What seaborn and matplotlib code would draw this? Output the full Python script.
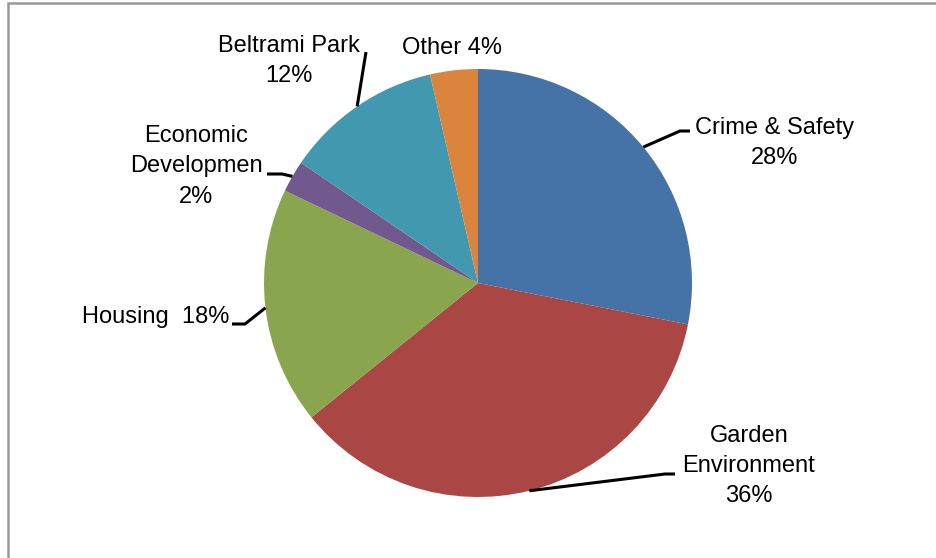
import numpy as np
import matplotlib
matplotlib.use("Agg")
import matplotlib.pyplot as plt
import seaborn as sns
from matplotlib.patches import Rectangle

# ---- data ----
categories = ["Crime & Safety", "Garden\nEnvironment", "Housing ", "Economic\nDevelopmen",
              "Beltrami Park", "Other"]
values = [28.1, 36.1, 17.9, 2.4, 11.9, 3.6]
colors = ["#4572A7", "#AA4643", "#89A54E", "#71588F", "#4198AF", "#DB843D"]

sns.set_theme(style="white")
plt.rcParams['font.family'] = ['Liberation Sans', 'DejaVu Sans']

W, H = 937, 558
fig = plt.figure(figsize=(W / 100, H / 100), dpi=100)
ax = fig.add_axes([0, 0, 1, 1])

def py(y):
    return H - y

cx, cy, r = 478, py(283), 214
wedges, _ = ax.pie(values, colors=colors, startangle=90, counterclock=False,
                   center=(cx, cy), radius=r, frame=True,
                   wedgeprops=dict(linewidth=0))
ax.set_xlim(0, W)
ax.set_ylim(0, H)
ax.set_aspect('equal')
ax.axis('off')

total = sum(values)
pcts = [f"{v / total * 100:.0f}%" for v in values]

# label layout: (text center, elbow point, end point)
layout = [
    dict(t=(775, 143), sep="\n", elbow=(680, 131), end=(690, 131)),
    dict(t=(749, 466), sep="\n", elbow=(665, 474), end=(675, 474)),
    dict(t=(156, 317), sep=" ", elbow=(245, 324), end=(232, 324)),
    dict(t=(196, 166), sep="\n", elbow=(282, 174), end=(267, 174)),
    dict(t=(289, 61), sep="\n", elbow=(366, 52), end=(366, 52)),
    dict(t=(452, 48), sep=" ", elbow=None, end=None),
]

for w, cat, pct, lay in zip(wedges, categories, pcts, layout):
    tx, ty = lay["t"]
    ax.text(tx, py(ty), cat + lay["sep"] + pct, ha='center', va='center',
            fontsize=17, linespacing=1.5, color='black')
    if lay["elbow"] is not None:
        mid = np.deg2rad((w.theta1 + w.theta2) / 2)
        sx, sy = cx + r * np.cos(mid), cy + r * np.sin(mid)
        ex, ey = lay["elbow"]
        fx, fy = lay["end"]
        ax.plot([sx, ex, fx], [sy, py(ey), py(fy)], color='black', lw=2.2,
                solid_joinstyle='miter', solid_capstyle='butt')

# outer frame
fig.patches.append(Rectangle((8, py(3) - 700), 1000, 700, transform=None,
                             fill=False, edgecolor='#999999', linewidth=1.8))

fig.savefig("out.png", dpi=100)
